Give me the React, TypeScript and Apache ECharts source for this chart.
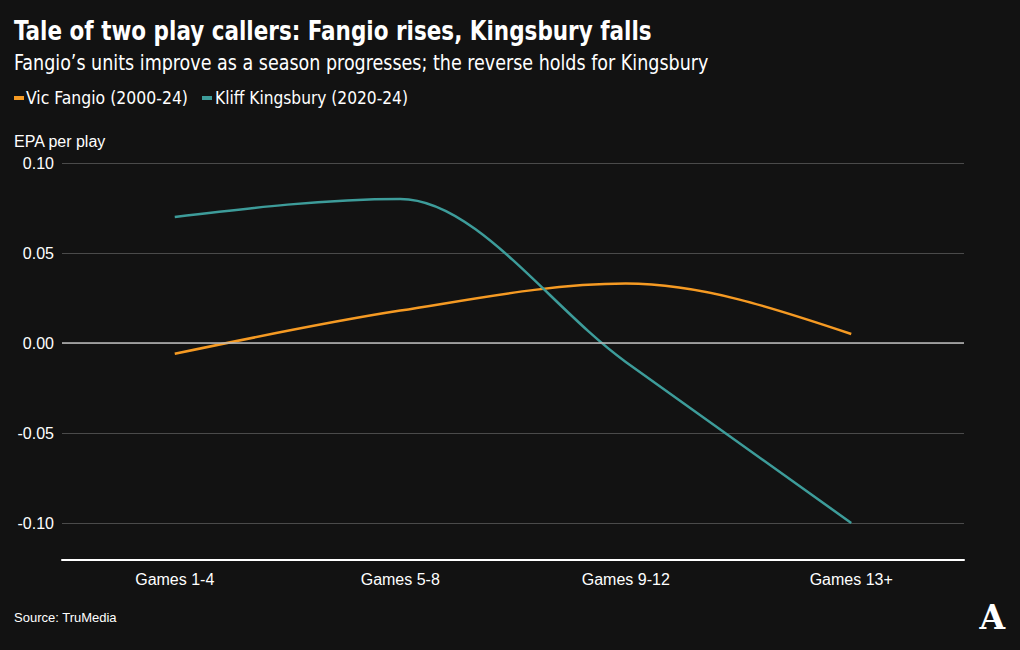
import React, { useEffect, useRef } from "react";
import * as echarts from "echarts";

const categories = ["Games 1-4", "Games 5-8", "Games 9-12", "Games 13+"];
const fangio = [-0.006, 0.018, 0.033, 0.005];
const kingsbury = [0.07, 0.08, -0.0105, -0.1];
const seriesNames = ["Vic Fangio (2000-24)", "Kliff Kingsbury (2020-24)"];
const seriesColors = ["#f59a23", "#3d9c9a"];
const yTicks = { min: -0.1, max: 0.1, interval: 0.05 };

const BG = "#121212";
const COND = "'DejaVu Sans Condensed', 'DejaVu Sans', sans-serif";
const SANS = "'Liberation Sans', 'Noto Sans', sans-serif";

function measure(text: string, font: string): number {
  const c = document.createElement("canvas").getContext("2d");
  if (!c) return 1;
  c.font = font;
  return c.measureText(text).width;
}

function scaledText(text: string, font: string, x: number, y: number, targetW: number, fill = "#ffffff") {
  const w = measure(text, font);
  const s = w > 0 ? targetW / w : 1;
  return {
    type: "text",
    x,
    y,
    scaleX: s,
    scaleY: 1,
    style: { text, fill, font, textVerticalAlign: "middle", verticalAlign: "middle" },
  };
}

// monotone-X cubic path (Fritsch–Carlson, as d3.curveMonotoneX) in pixel space
function monotonePath(pts: number[][]): string {
  const n = pts.length;
  if (n < 2) return "";
  const sl: number[] = [];
  for (let i = 0; i < n - 1; i++) {
    sl.push((pts[i + 1][1] - pts[i][1]) / (pts[i + 1][0] - pts[i][0]));
  }
  const t: number[] = new Array(n).fill(0);
  for (let i = 1; i < n - 1; i++) {
    const h0 = pts[i][0] - pts[i - 1][0];
    const h1 = pts[i + 1][0] - pts[i][0];
    const s0 = sl[i - 1];
    const s1 = sl[i];
    const p = (s0 * h1 + s1 * h0) / (h0 + h1);
    t[i] = (Math.sign(s0) + Math.sign(s1)) * Math.min(Math.abs(s0), Math.abs(s1), 0.5 * Math.abs(p)) || 0;
  }
  t[0] = n > 2 ? (3 * sl[0] - t[1]) / 2 : sl[0];
  t[n - 1] = n > 2 ? (3 * sl[n - 2] - t[n - 2]) / 2 : sl[0];
  let d = `M${pts[0][0]},${pts[0][1]}`;
  for (let i = 0; i < n - 1; i++) {
    const h = (pts[i + 1][0] - pts[i][0]) / 3;
    d += ` C${pts[i][0] + h},${pts[i][1] + h * t[i]} ${pts[i + 1][0] - h},${pts[i + 1][1] - h * t[i + 1]} ${pts[i + 1][0]},${pts[i + 1][1]}`;
  }
  return d;
}

function curveSeries(name: string, values: number[], color: string, z: number) {
  return {
    name,
    type: "custom",
    coordinateSystem: "cartesian2d",
    z,
    silent: true,
    itemStyle: { color },
    data: values.map((v, i) => [i, v]),
    encode: { x: 0, y: 1 },
    renderItem: (params: any, api: any) => {
      if (params.dataIndex !== 0) return null;
      const pts = values.map((v, i) => api.coord([i, v]));
      return {
        type: "path",
        shape: { pathData: monotonePath(pts) },
        style: { fill: "none", stroke: color, lineWidth: 2.5 },
      };
    },
  };
}

export default function App() {
  const ref = useRef<HTMLDivElement>(null);
  useEffect(() => {
    if (!ref.current) return;
    const chart = echarts.init(ref.current, undefined, { renderer: "svg" });
    const titleFont = `bold 27px ${COND}`;
    const subFont = `21px ${COND}`;
    const legFont = `17px ${COND}`;
    chart.setOption({
      animation: false,
      backgroundColor: BG,
      textStyle: { fontFamily: SANS },
      grid: { left: 62, right: 56, top: 163, bottom: 127, containLabel: false },
      xAxis: {
        type: "category",
        data: categories,
        boundaryGap: true,
        offset: 37,
        axisLine: { show: true, onZero: false, lineStyle: { color: "#ffffff", width: 2 } },
        axisTick: { show: false },
        axisLabel: { color: "#ffffff", fontSize: 16, margin: 11, fontFamily: SANS },
        splitLine: { show: false },
      },
      yAxis: {
        type: "value",
        min: yTicks.min,
        max: yTicks.max,
        interval: yTicks.interval,
        axisLine: { show: false },
        axisTick: { show: false },
        axisLabel: {
          color: "#ffffff",
          fontSize: 16,
          margin: 8,
          fontFamily: SANS,
          formatter: (v: number) => v.toFixed(2),
        },
        splitLine: { show: true, lineStyle: { color: "#4a4a4a", width: 1 } },
      },
      graphic: [
        scaledText("Tale of two play callers: Fangio rises, Kingsbury falls", titleFont, 14, 30, 638),
        scaledText(
          "Fangio\u2019s units improve as a season progresses; the reverse holds for Kingsbury",
          subFont,
          14,
          63,
          695
        ),
        { type: "rect", shape: { x: 14, y: 96, width: 10, height: 4 }, style: { fill: seriesColors[0] } },
        scaledText(seriesNames[0], legFont, 26, 98, 162),
        { type: "rect", shape: { x: 202, y: 96, width: 10, height: 4 }, style: { fill: seriesColors[1] } },
        scaledText(seriesNames[1], legFont, 215, 98, 193),
        {
          type: "text",
          left: 14,
          top: 133,
          style: { text: "EPA per play", fill: "#ffffff", font: `16px ${SANS}` },
        },
        {
          type: "text",
          left: 14,
          top: 611,
          style: { text: "Source: TruMedia", fill: "#ffffff", font: `13px ${SANS}` },
        },
        {
          type: "text",
          left: 979,
          top: 601,
          style: {
            text: "A",
            fill: "#ffffff",
            stroke: BG,
            lineWidth: 0.8,
            font: `bold 33px 'DejaVu Serif', 'Liberation Serif', serif`,
          },
        },
      ],
      series: [
        {
          name: "zero",
          type: "line",
          data: [],
          silent: true,
          markLine: {
            silent: true,
            symbol: "none",
            label: { show: false },
            lineStyle: { color: "#bdbdbd", width: 1.5, type: "solid" },
            data: [{ yAxis: 0 }],
          },
          z: 1,
        },
        curveSeries(seriesNames[0], fangio, seriesColors[0], 3),
        curveSeries(seriesNames[1], kingsbury, seriesColors[1], 4),
      ],
    });
    return () => chart.dispose();
  }, []);
  return <div ref={ref} style={{ width: 1020, height: 650, position: "absolute", left: 0, top: 0 }} />;
}
